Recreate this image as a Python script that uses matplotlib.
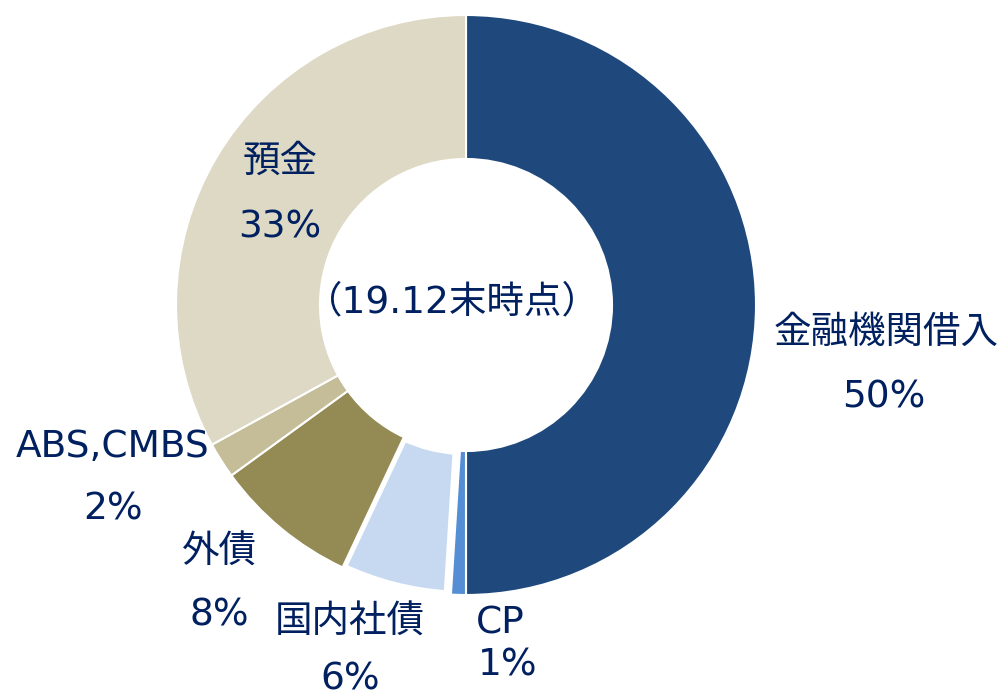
import matplotlib.pyplot as plt

plt.rcParams['font.family'] = ['DejaVu Sans', 'Noto Sans CJK JP']

# ── data ──────────────────────────────────────────────────────
categories = ["金融機関借入", "CP", "国内社債", "外債", "ABS,CMBS", "預金"]
shares = [50, 1, 6, 8, 2, 33]
colors = ["#1F497D", "#558ED5", "#C6D9F1", "#948A54", "#C4BD97", "#DDD9C4"]
label_pos = [(886, 333), (500, 623), (350, 623), (219, 553), (113, 447), (280, 162)]
pct_pos = [(884, 397), (508, 665), (350, 680), (219, 615), (113, 510), (280, 227)]
center_note = "（19.12末時点）"

text_color = "#002060"
W, H = 1000, 699
cx, cy = 466, 305
r_out, r_in = 290, 146

fig = plt.figure(figsize=(W / 100, H / 100), dpi=100)
ax = fig.add_axes([0, 0, 1, 1])

wedges, _ = ax.pie(shares, colors=colors, startangle=90, counterclock=False,
                   center=(cx, H - cy), radius=r_out, frame=True,
                   wedgeprops=dict(width=r_out - r_in, edgecolor="white", linewidth=1.5))
wedges[2].set_linewidth(6)
ax.set_xlim(0, W)
ax.set_ylim(0, H)
ax.set_aspect("equal")
ax.axis("off")

for name, val, (lx, ly), (px, py) in zip(categories, shares, label_pos, pct_pos):
    ax.text(lx, H - ly, name, ha="center", va="center", fontsize=27, color=text_color)
    ax.text(px, H - py, f"{val}%", ha="center", va="center", fontsize=27, color=text_color)

ax.text(452, H - 302, center_note, ha="center", va="center", fontsize=27, color=text_color)

fig.savefig("out.png", dpi=100)
